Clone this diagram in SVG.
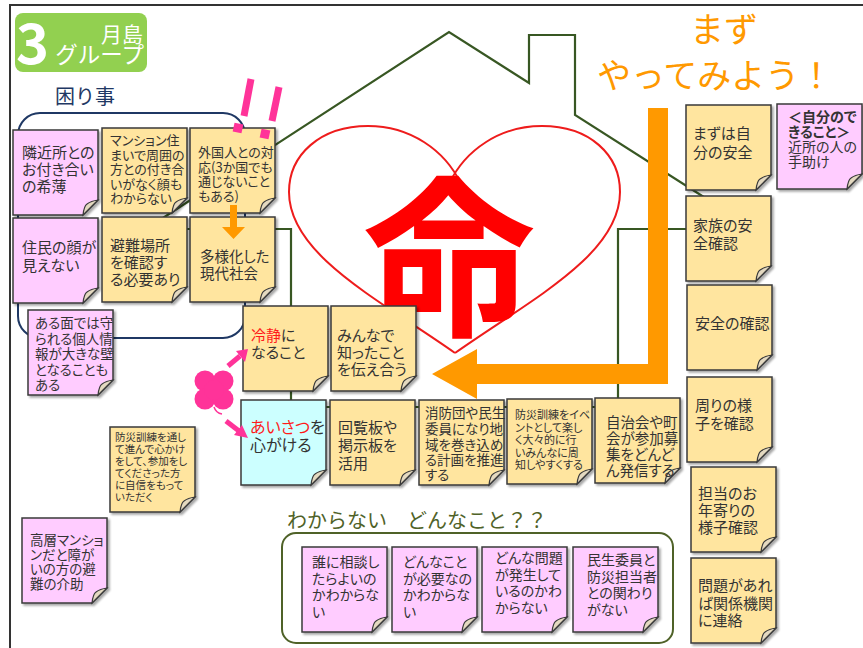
<svg xmlns="http://www.w3.org/2000/svg" xmlns:xlink="http://www.w3.org/1999/xlink" width="863" height="648" viewBox="0 0 863 648">
<defs>
<style>
.t{font-family:"Noto Sans CJK JP","Noto Sans CJK SC",sans-serif;fill:#333;font-feature-settings:"palt";}
.f10{font-size:10.5px}.f11{font-size:11px}.f13{font-size:13px}.f135{font-size:13.5px}.f14{font-size:14px}.f145{font-size:14.5px}.f15{font-size:15px}.f16{font-size:16px}
.ny{fill:#ffe59f}.np{fill:#ffccff}.nb{fill:#ccffff}
.red{fill:#ff1a1a}
.house{fill:none;stroke:#385723;stroke-width:2.2;stroke-linejoin:miter}
.heart{fill:none;stroke:#ee1c1c;stroke-width:2}
.orange{fill:#ff9900}
.pink{fill:#ff3399}
</style>
<filter id="sh" x="-10%" y="-10%" width="130%" height="130%">
<feDropShadow dx="2" dy="2" stdDeviation="1.3" flood-color="#000" flood-opacity="0.35"/>
</filter>
<g id="note">
<path d="M0,0H85V70L70,85H0Z" stroke="#3a3a3a" stroke-width="1.5"/>
<path d="M85,70L70,85Q71,76 74,74Q78,71 85,70Z" fill="#e4d9c0" stroke="#3a3a3a" stroke-width="1.2"/>
</g>
</defs>

<rect x="0" y="0" width="863" height="648" fill="#ffffff"/>
<rect id="frame" x="10" y="5" width="900" height="700" fill="none" stroke="#333" stroke-width="2"/>

<g id="badge">
<rect x="15" y="13" width="132" height="59" rx="8" fill="#92d050"/>
<text x="16" y="64" font-family="'Noto Sans CJK JP',sans-serif" font-weight="700" font-size="56" fill="#fff">3</text>
<text x="143" y="42" text-anchor="end" font-family="'Noto Sans CJK JP',sans-serif" font-size="21" fill="#fff">月島</text>
<text x="144" y="63" text-anchor="end" font-family="'Noto Sans CJK JP',sans-serif" font-size="22.5" fill="#fff">グループ</text>
</g>

<g id="komari">
<text x="55" y="104" font-family="'Noto Sans CJK JP',sans-serif" font-size="20" fill="#1f3864">困り事</text>
<rect x="18" y="113" width="227" height="225" rx="22" fill="none" stroke="#1f3864" stroke-width="2"/>
</g>

<g id="house">
<path class="house" d="M291,407V229H146L449,32L529,83V35H575V115L754,229H618V407Z"/>
</g>

<g id="heart">
<path class="heart" d="M461,184C445,150 410,126 368,126C320,126 289,155 289,192C289,255 380,300 455,353"/>
<path class="heart" d="M449,184C465,150 500,126 542,126C590,126 620,155 620,192C620,255 530,300 455,353"/>
<text x="449" y="322" text-anchor="middle" font-family="'Noto Sans CJK JP',sans-serif" font-weight="700" font-size="172" fill="#ff0000">命</text>
</g>

<g id="title-right">
<text x="690" y="42" font-family="'Noto Sans CJK JP',sans-serif" font-size="34" fill="#ff9900">まず</text>
<text x="597" y="88" font-family="'Noto Sans CJK JP',sans-serif" font-size="34" fill="#ff9900">やってみよう！</text>
</g>

<g id="n-kinjo" transform="translate(13,130)"><use href="#note" class="np" filter="url(#sh)"/>
<text class="t f15" x="9" y="28">隣近所との<tspan x="9" y="45">お付き合い</tspan><tspan x="9" y="62">の希薄</tspan></text></g>

<g id="n-mansion" transform="translate(102,128)"><use href="#note" class="ny" filter="url(#sh)"/>
<text class="t f13" x="8" y="17">マンション住<tspan x="8" y="31.5">まいで周囲の</tspan><tspan x="8" y="46">方との付き合</tspan><tspan x="8" y="60.5">いがなく顔も</tspan><tspan x="8" y="75">わからない</tspan></text></g>

<g id="n-gaikoku" transform="translate(190,128)"><use href="#note" class="ny" filter="url(#sh)"/>
<text class="t f13" x="8" y="29">外国人との対<tspan x="8" y="43.5">応(3か国でも</tspan><tspan x="8" y="58">通じないこと</tspan><tspan x="8" y="72.5">もある)</tspan></text></g>

<g id="n-kao" transform="translate(13,218)"><use href="#note" class="np" filter="url(#sh)"/>
<text class="t f15" x="9" y="35">住民の顔が<tspan x="9" y="53">見えない</tspan></text></g>

<g id="n-hinan" transform="translate(102,217)"><use href="#note" class="ny" filter="url(#sh)"/>
<text class="t f15" x="8" y="34">避難場所<tspan x="8" y="51">を確認す</tspan><tspan x="8" y="68">る必要あり</tspan></text></g>

<g id="n-tayoka" transform="translate(190,217)"><use href="#note" class="ny" filter="url(#sh)"/>
<text class="t f145" x="10" y="45">多様化した<tspan x="10" y="61.5">現代社会</tspan></text></g>

<g id="n-kojin" transform="translate(28,310)"><use href="#note" class="np" filter="url(#sh)"/>
<text class="t f135" x="7" y="18">ある面では守<tspan x="7" y="33.5">られる個人情</tspan><tspan x="7" y="49">報が大きな壁</tspan><tspan x="7" y="64.5">となることも</tspan><tspan x="7" y="80">ある</tspan></text></g>

<g id="n-kunren" transform="translate(110,427)"><use href="#note" class="ny" filter="url(#sh)"/>
<text class="t f10" x="5" y="14">防災訓練を通し<tspan x="5" y="26">て進んで心かけ</tspan><tspan x="5" y="38">をして、参加をし</tspan><tspan x="5" y="50">てくださった方</tspan><tspan x="5" y="62">に自信をもって</tspan><tspan x="5" y="74">いただく</tspan></text></g>

<g id="n-koso" transform="translate(22,518)"><use href="#note" class="np" filter="url(#sh)"/>
<text class="t f135" x="8" y="27">高層マンショ<tspan x="8" y="41.5">ンだと障が</tspan><tspan x="8" y="56">いの方の避</tspan><tspan x="8" y="70.5">難の介助</tspan></text></g>

<g id="n-reisei" transform="translate(243,306)"><use href="#note" class="ny" filter="url(#sh)"/>
<text class="t f15" x="8" y="35"><tspan class="red">冷静</tspan>に<tspan x="8" y="52">なること</tspan></text></g>

<g id="n-minna" transform="translate(331,306)"><use href="#note" class="ny" filter="url(#sh)"/>
<text class="t f15" x="6" y="35">みんなで<tspan x="6" y="52">知ったこと</tspan><tspan x="6" y="68.5">を伝え合う</tspan></text></g>

<g id="n-aisatsu" transform="translate(241,400)"><use href="#note" class="nb" filter="url(#sh)"/>
<text class="t f16" x="9" y="33"><tspan class="red">あいさつ</tspan>を<tspan x="9" y="51">心がける</tspan></text></g>

<g id="n-kairan" transform="translate(330,400)"><use href="#note" class="ny" filter="url(#sh)"/>
<text class="t f15" x="8" y="33">回覧板や<tspan x="8" y="51">掲示板を</tspan><tspan x="8" y="69">活用</tspan></text></g>

<g id="n-shobo" transform="translate(419,400)"><use href="#note" class="ny" filter="url(#sh)"/>
<text class="t f135" x="6" y="18">消防団や民生<tspan x="6" y="34">委員になり地</tspan><tspan x="6" y="49.5">域を巻き込め</tspan><tspan x="6" y="65">る計画を推進</tspan><tspan x="6" y="80">する</tspan></text></g>

<g id="n-event" transform="translate(507,399)"><use href="#note" class="ny" filter="url(#sh)"/>
<text class="t f11" x="8" y="20">防災訓練をイベ<tspan x="8" y="32.5">ントとして楽し</tspan><tspan x="8" y="45">く大々的に行</tspan><tspan x="8" y="57.5">いみんなに周</tspan><tspan x="8" y="70">知しやすくする</tspan></text></g>

<g id="n-jichikai" transform="translate(595,398)"><use href="#note" class="ny" filter="url(#sh)"/>
<text class="t f145" x="11" y="29.5">自治会や町<tspan x="11" y="45.5">会が参加募</tspan><tspan x="11" y="62">集をどんど</tspan><tspan x="11" y="77.5">ん発信する</tspan></text></g>

<g id="n-jibun" transform="translate(686,105)"><use href="#note" class="ny" filter="url(#sh)"/>
<text class="t f15" x="7" y="34">まずは自<tspan x="7" y="53">分の安全</tspan></text></g>

<g id="n-dekiru" transform="translate(777,104)"><use href="#note" class="np" filter="url(#sh)"/>
<text class="t f14" x="11" y="18" font-weight="700">＜自分ので<tspan x="11" y="33">きること＞</tspan></text>
<text class="t f14" x="11" y="48">近所の人の<tspan x="11" y="63">手助け</tspan></text></g>

<g id="n-kazoku" transform="translate(686,196)"><use href="#note" class="ny" filter="url(#sh)"/>
<text class="t f15" x="7" y="35">家族の安<tspan x="7" y="53">全確認</tspan></text></g>

<g id="n-anzen" transform="translate(687,285)"><use href="#note" class="ny" filter="url(#sh)"/>
<text class="t f15" x="8" y="44">安全の確認</text></g>

<g id="n-mawari" transform="translate(687,377)"><use href="#note" class="ny" filter="url(#sh)"/>
<text class="t f15" x="8" y="34">周りの様<tspan x="8" y="52">子を確認</tspan></text></g>

<g id="n-toshiyori" transform="translate(691,467)"><use href="#note" class="ny" filter="url(#sh)"/>
<text class="t f15" x="7" y="32">担当のお<tspan x="7" y="49">年寄りの</tspan><tspan x="7" y="66">様子確認</tspan></text></g>

<g id="n-renraku" transform="translate(691,558)"><use href="#note" class="ny" filter="url(#sh)"/>
<text class="t f15" x="7" y="33">問題があれ<tspan x="7" y="51">ば関係機関</tspan><tspan x="7" y="68">に連絡</tspan></text></g>

<g id="wakaranai">
<text x="287" y="528" font-family="'Noto Sans CJK JP',sans-serif" font-size="20" fill="#4f6228">わからない　どんなこと？？</text>
<rect x="282" y="533" width="391" height="110" rx="14" fill="none" stroke="#4f6228" stroke-width="2"/>
</g>

<g id="n-sodan" transform="translate(302,547)"><use href="#note" class="np" filter="url(#sh)"/>
<text class="t f14" x="10" y="20">誰に相談し<tspan x="10" y="36.5">たらよいの</tspan><tspan x="10" y="53">かわからな</tspan><tspan x="10" y="69.5">い</tspan></text></g>

<g id="n-hitsuyo" transform="translate(392,547)"><use href="#note" class="np" filter="url(#sh)"/>
<text class="t f14" x="11" y="20">どんなこと<tspan x="11" y="36.5">が必要なの</tspan><tspan x="11" y="53">かわからな</tspan><tspan x="11" y="69.5">い</tspan></text></g>

<g id="n-mondai" transform="translate(482,547)"><use href="#note" class="np" filter="url(#sh)"/>
<text class="t f14" x="13" y="16">どんな問題<tspan x="13" y="32.5">が発生して</tspan><tspan x="13" y="49">いるのかわ</tspan><tspan x="13" y="65.5">からない</tspan></text></g>

<g id="n-minsei" transform="translate(573,547)"><use href="#note" class="np" filter="url(#sh)"/>
<text class="t f14" x="14" y="18">民生委員と<tspan x="14" y="34.5">防災担当者</tspan><tspan x="14" y="51">との関わり</tspan><tspan x="14" y="67.5">がない</tspan></text></g>

<g id="connectors">
<polygon class="orange" points="648,108 668,108 668,384 477,384 477,399 432,374 477,349 477,364 648,364"/>
<polygon class="orange" points="230,205 237,205 237,227 245,227 233.5,239 222,227 230,227"/>
<line x1="251" y1="79" x2="244" y2="116" stroke="#ff3399" stroke-width="7"/>
<rect x="233.5" y="123.5" width="9" height="9" class="pink" transform="rotate(12 238 128)"/>
<line x1="279" y1="87" x2="272" y2="121" stroke="#ff3399" stroke-width="7"/>
<rect x="260.5" y="129.5" width="9" height="9" class="pink" transform="rotate(12 265 134)"/>
<g id="flower">
<circle class="pink" cx="205" cy="381" r="10.5"/>
<circle class="pink" cx="223" cy="381" r="10.5"/>
<circle class="pink" cx="205" cy="399" r="10.5"/>
<circle class="pink" cx="223" cy="399" r="10.5"/>
<circle class="pink" cx="214" cy="390" r="10"/>
<path d="M214,407Q216,413 222,414" fill="none" stroke="#ff3399" stroke-width="1.5"/>
</g>
<line x1="228" y1="366" x2="240" y2="356" stroke="#ff3399" stroke-width="5"/>
<polygon class="pink" points="248,349 245,362 236,351"/>
<line x1="226" y1="421" x2="239" y2="431" stroke="#ff3399" stroke-width="5"/>
<polygon class="pink" points="248,438 234,435 242,425"/>
</g>
</svg>
